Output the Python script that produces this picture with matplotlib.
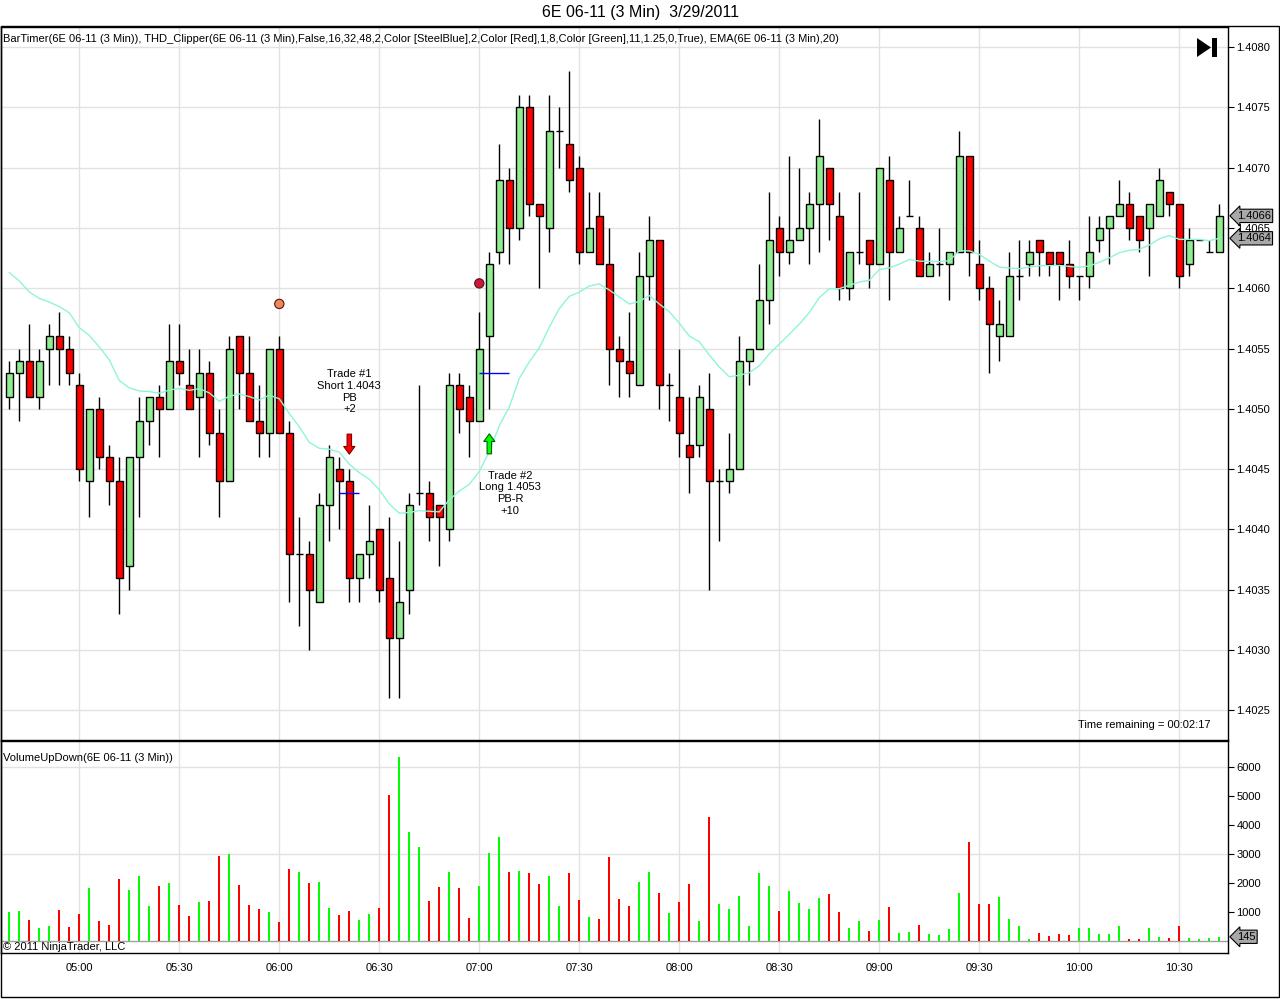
import numpy as np
import pandas as pd
import matplotlib
matplotlib.use("Agg")
import matplotlib.pyplot as plt
from matplotlib.patches import Rectangle, Polygon
from matplotlib.transforms import offset_copy

plt.rcParams['font.family'] = ['Liberation Sans', 'DejaVu Sans']

# 3-minute bars of 6E 06-11
opens = [1.4051, 1.4053, 1.4054, 1.4051, 1.4055, 1.4056, 1.4055, 1.4052, 1.4044, 1.4050,
         1.4046, 1.4044, 1.4037, 1.4046, 1.4049, 1.4051, 1.4050, 1.4054, 1.4052, 1.4051,
         1.4053, 1.4048, 1.4044, 1.4056, 1.4053, 1.4049, 1.4048, 1.4055, 1.4048, 1.4038,
         1.4038, 1.4034, 1.4042, 1.4045, 1.4044, 1.4036, 1.4038, 1.4040, 1.4036, 1.4031,
         1.4035, 1.4043, 1.4043, 1.4042, 1.4040, 1.4052, 1.4051, 1.4049, 1.4056, 1.4063,
         1.4069, 1.4065, 1.4075, 1.4067, 1.4065, 1.4073, 1.4072, 1.4070, 1.4063, 1.4066,
         1.4062, 1.4055, 1.4054, 1.4052, 1.4061, 1.4064, 1.4052, 1.4051, 1.4047, 1.4047,
         1.4050, 1.4044, 1.4044, 1.4045, 1.4054, 1.4055, 1.4059, 1.4065, 1.4063, 1.4064,
         1.4065, 1.4067, 1.4070, 1.4066, 1.4060, 1.4063, 1.4064, 1.4062, 1.4069, 1.4063,
         1.4066, 1.4065, 1.4061, 1.4062, 1.4062, 1.4063, 1.4071, 1.4062, 1.4060, 1.4056,
         1.4056, 1.4061, 1.4062, 1.4064, 1.4063, 1.4063, 1.4062, 1.4061, 1.4061, 1.4064,
         1.4065, 1.4066, 1.4067, 1.4066, 1.4065, 1.4066, 1.4068, 1.4067, 1.4062, 1.4064,
         1.4063, 1.4063]
highs = [1.4054, 1.4055, 1.4057, 1.4055, 1.4057, 1.4058, 1.4056, 1.4053, 1.4050, 1.4051,
         1.4047, 1.4046, 1.4046, 1.4051, 1.4051, 1.4052, 1.4057, 1.4057, 1.4055, 1.4055,
         1.4054, 1.4050, 1.4056, 1.4056, 1.4056, 1.4052, 1.4055, 1.4056, 1.4049, 1.4041,
         1.4039, 1.4043, 1.4047, 1.4046, 1.4045, 1.4038, 1.4042, 1.4040, 1.4041, 1.4039,
         1.4043, 1.4052, 1.4044, 1.4042, 1.4053, 1.4053, 1.4052, 1.4058, 1.4063, 1.4072,
         1.4070, 1.4076, 1.4076, 1.4067, 1.4076, 1.4075, 1.4078, 1.4071, 1.4068, 1.4068,
         1.4065, 1.4056, 1.4058, 1.4063, 1.4066, 1.4064, 1.4053, 1.4055, 1.4051, 1.4052,
         1.4053, 1.4045, 1.4048, 1.4056, 1.4055, 1.4062, 1.4068, 1.4066, 1.4071, 1.4070,
         1.4068, 1.4074, 1.4070, 1.4068, 1.4063, 1.4068, 1.4064, 1.4070, 1.4071, 1.4066,
         1.4069, 1.4066, 1.4063, 1.4065, 1.4063, 1.4073, 1.4071, 1.4064, 1.4061, 1.4059,
         1.4063, 1.4064, 1.4064, 1.4064, 1.4063, 1.4063, 1.4064, 1.4061, 1.4066, 1.4066,
         1.4066, 1.4069, 1.4068, 1.4066, 1.4067, 1.4070, 1.4068, 1.4067, 1.4065, 1.4064,
         1.4064, 1.4067]
lows = [1.4050, 1.4049, 1.4051, 1.4050, 1.4052, 1.4052, 1.4052, 1.4044, 1.4041, 1.4045,
        1.4042, 1.4033, 1.4035, 1.4041, 1.4047, 1.4046, 1.4050, 1.4052, 1.4050, 1.4046,
        1.4047, 1.4041, 1.4044, 1.4050, 1.4049, 1.4046, 1.4046, 1.4048, 1.4034, 1.4032,
        1.4030, 1.4034, 1.4039, 1.4040, 1.4034, 1.4034, 1.4036, 1.4034, 1.4026, 1.4026,
        1.4033, 1.4042, 1.4039, 1.4037, 1.4039, 1.4048, 1.4046, 1.4049, 1.4050, 1.4062,
        1.4062, 1.4064, 1.4066, 1.4060, 1.4063, 1.4070, 1.4068, 1.4062, 1.4063, 1.4062,
        1.4052, 1.4051, 1.4051, 1.4052, 1.4059, 1.4050, 1.4049, 1.4046, 1.4043, 1.4046,
        1.4035, 1.4039, 1.4043, 1.4045, 1.4052, 1.4055, 1.4057, 1.4061, 1.4062, 1.4064,
        1.4062, 1.4063, 1.4064, 1.4059, 1.4059, 1.4062, 1.4060, 1.4062, 1.4059, 1.4063,
        1.4066, 1.4061, 1.4061, 1.4061, 1.4059, 1.4063, 1.4061, 1.4059, 1.4053, 1.4054,
        1.4056, 1.4059, 1.4061, 1.4061, 1.4061, 1.4059, 1.4060, 1.4059, 1.4060, 1.4063,
        1.4062, 1.4066, 1.4064, 1.4063, 1.4061, 1.4066, 1.4066, 1.4060, 1.4061, 1.4064,
        1.4063, 1.4063]
closes = [1.4053, 1.4054, 1.4051, 1.4054, 1.4056, 1.4055, 1.4053, 1.4045, 1.4050, 1.4046,
          1.4044, 1.4036, 1.4046, 1.4049, 1.4051, 1.4050, 1.4054, 1.4053, 1.4050, 1.4053,
          1.4048, 1.4044, 1.4055, 1.4053, 1.4049, 1.4048, 1.4055, 1.4048, 1.4038, 1.4038,
          1.4035, 1.4042, 1.4046, 1.4044, 1.4036, 1.4038, 1.4039, 1.4035, 1.4031, 1.4034,
          1.4042, 1.4043, 1.4041, 1.4041, 1.4052, 1.4050, 1.4049, 1.4055, 1.4062, 1.4069,
          1.4065, 1.4075, 1.4067, 1.4066, 1.4073, 1.4073, 1.4069, 1.4063, 1.4065, 1.4062,
          1.4055, 1.4054, 1.4053, 1.4061, 1.4064, 1.4052, 1.4052, 1.4048, 1.4046, 1.4051,
          1.4044, 1.4044, 1.4045, 1.4054, 1.4055, 1.4059, 1.4064, 1.4063, 1.4064, 1.4065,
          1.4067, 1.4071, 1.4067, 1.4060, 1.4063, 1.4063, 1.4062, 1.4070, 1.4063, 1.4065,
          1.4066, 1.4061, 1.4062, 1.4062, 1.4063, 1.4071, 1.4063, 1.4060, 1.4057, 1.4057,
          1.4061, 1.4061, 1.4063, 1.4063, 1.4062, 1.4062, 1.4061, 1.4061, 1.4063, 1.4065,
          1.4066, 1.4067, 1.4065, 1.4064, 1.4067, 1.4069, 1.4067, 1.4061, 1.4064, 1.4064,
          1.4063, 1.4066]
volumes = [1000, 1030, 720, 450, 520, 1070, 480, 930, 1830, 690,
           550, 2140, 1760, 2240, 1210, 1900, 2000, 1240, 860, 1350,
           1380, 2930, 3000, 1930, 1240, 1100, 1000, 660, 2480, 2380,
           2000, 2030, 1140, 900, 1030, 720, 930, 1140, 5030, 6340,
           3760, 3240, 1380, 1860, 2380, 1830, 790, 1900, 3030, 3590,
           2380, 2410, 2350, 1970, 2240, 1210, 2350, 1410, 830, 760,
           2900, 1450, 1210, 2030, 2380, 1660, 970, 1350, 1970, 690,
           4280, 1280, 1100, 1550, 520, 2350, 1900, 1030, 1720, 1310,
           1100, 1480, 1620, 1000, 450, 690, 350, 720, 1170, 280,
           310, 550, 240, 210, 410, 1660, 3410, 1280, 1280, 1520,
           760, 520, 70, 280, 170, 240, 210, 450, 450, 240,
           240, 520, 70, 70, 450, 140, 100, 520, 100, 70,
           100, 145]

ema_start = 1.40613   # EMA(20) value at the first visible bar
ema_period = 20

tick_labels = ["05:00", "05:30", "06:00", "06:30", "07:00", "07:30", "08:00",
               "08:30", "09:00", "09:30", "10:00", "10:30"]
price_ticks = [1.4025, 1.4030, 1.4035, 1.4040, 1.4045, 1.4050, 1.4055,
               1.4060, 1.4065, 1.4070, 1.4075, 1.4080]
volume_ticks = [1000, 2000, 3000, 4000, 5000, 6000]

# THD_Clipper markers and trades
dot_bars = [27, 47]
dot_prices = [1.40587, 1.40604]
trade_bars = [34, 48]
trade_sides = ["short", "long"]
trade_prices = [1.4043, 1.4053]
trade_line_from = [33, 47]
trade_line_to = [35, 50]
trade_texts = ["Trade #1\nShort 1.4043\nPB\n+2", "Trade #2\nLong 1.4053\nPB-R\n+10"]

o = np.array(opens); h = np.array(highs); l = np.array(lows); c = np.array(closes)
v = np.array(volumes)
n = len(c)
x = np.arange(n)
times = pd.date_range("2011-03-29 04:39", periods=n, freq="3min").strftime("%H:%M")
tick_pos = [list(times).index(t) for t in tick_labels]
up = c >= o

alpha = 2.0 / (ema_period + 1)
ema = np.empty(n)
ema[0] = ema_start
for i in range(1, n):
    ema[i] = ema[i - 1] + alpha * (c[i] - ema[i - 1])

W, H = 1280, 999
fig = plt.figure(figsize=(W / 100, H / 100), dpi=100)


def fx(px):
    return px / W


def fy(py):
    return 1 - py / H


ax = fig.add_axes([fx(1), fy(740), fx(1228) - fx(1), fy(27) - fy(740)])
axv = fig.add_axes([fx(1), fy(953), fx(1228) - fx(1), fy(741) - fy(953)])

grid_col = "#e2e2e2"
for t in tick_pos:
    ax.axvline(t, color=grid_col, lw=1, zorder=0)
    axv.axvline(t, color=grid_col, lw=1, zorder=0)
for p in price_ticks:
    ax.axhline(p, color=grid_col, lw=1, zorder=0)
for vv in [3000, 6000]:
    axv.axhline(vv, color=grid_col, lw=1, zorder=0)

# candles
ax.vlines(x, l, h, color="black", lw=1, zorder=2)
body_lo = np.minimum(o, c)
body_h = np.abs(c - o)
nz = body_h > 1e-9
body_col = np.where(up, "#90ee90", "#ff0000")
ax.bar(x[nz], body_h[nz], bottom=body_lo[nz], width=0.65, color=body_col[nz],
       edgecolor="black", lw=1, zorder=3)
ax.hlines(c[~nz], x[~nz] - 0.33, x[~nz] + 0.33, color="black", lw=1, zorder=3)

ax.plot(x, ema, color="#8ff5d6", lw=1, zorder=4)

# markers and trades
ax.scatter(dot_bars, dot_prices, s=45, c=["#f4845a", "#d2143c"],
           edgecolors="#4a1a10", linewidths=0.8, zorder=5)
ax.hlines(trade_prices, trade_line_from, trade_line_to, color="blue", lw=1, zorder=5)
for b, side, txt in zip(trade_bars, trade_sides, trade_texts):
    if side == "short":
        tip = offset_copy(ax.transData, fig=fig, y=15, units="dots")
        ax.annotate("", xy=(b, h[b]), xycoords=tip, xytext=(0, 20),
                    textcoords="offset pixels",
                    arrowprops=dict(arrowstyle="simple,head_length=0.55,head_width=0.8,tail_width=0.32",
                                    fc="#ff0000", ec="#7a0000", lw=0.8, shrinkA=0, shrinkB=0),
                    zorder=6)
        ax.annotate(txt, xy=(b, h[b]), xytext=(0, 55), textcoords="offset pixels",
                    ha="center", va="bottom", fontsize=8, linespacing=1.2, zorder=6)
    else:
        tip = offset_copy(ax.transData, fig=fig, y=-25, units="dots")
        ax.annotate("", xy=(b, l[b]), xycoords=tip, xytext=(0, -20),
                    textcoords="offset pixels",
                    arrowprops=dict(arrowstyle="simple,head_length=0.55,head_width=0.8,tail_width=0.32",
                                    fc="#00ff00", ec="#006000", lw=0.8, shrinkA=0, shrinkB=0),
                    zorder=6)
        ax.annotate(txt, xy=(b, l[b]), xytext=(21, -62), textcoords="offset pixels",
                    ha="center", va="top", fontsize=8, linespacing=1.2, zorder=6)

# volume
axv.bar(x, v, width=0.22, color=np.where(up, "#00ff00", "#ff0000"), zorder=2)
axv.axhline(0, color="#a0a0a0", lw=1, zorder=1)

xlim = (-0.83, 121.87)
ax.set_xlim(*xlim)
axv.set_xlim(*xlim)
ax.set_ylim(1.402254, 1.408166)
axv.set_ylim(-414, 6897)

ax.yaxis.tick_right()
ax.set_yticks(price_ticks)
ax.set_yticklabels([f"{p:.4f}" for p in price_ticks])
ax.tick_params(axis="y", length=4, pad=2, labelsize=8, direction="out")
ax.tick_params(axis="x", bottom=False, labelbottom=False)

axv.yaxis.tick_right()
axv.set_yticks(volume_ticks)
axv.set_yticklabels([str(t) for t in volume_ticks])
axv.tick_params(axis="y", length=4, pad=2, labelsize=8, direction="out")
axv.set_xticks(tick_pos)
axv.set_xticklabels(tick_labels)
axv.tick_params(axis="x", length=0, pad=7, labelsize=8)

for a in (ax, axv):
    for s in a.spines.values():
        s.set_color("black")
        s.set_linewidth(1)

# last value boxes on the right axis
box = dict(boxstyle="larrow,pad=0.15", fc="#a8a8a8", ec="black", lw=0.8)
ax.annotate(f"{c[-1]:.4f}", xy=(1, c[-1]), xycoords=("axes fraction", "data"),
            xytext=(9, 0), textcoords="offset pixels", ha="left", va="center",
            fontsize=8, bbox=box, annotation_clip=False, zorder=10)
ax.annotate(f"{ema[-1]:.4f}", xy=(1, ema[-1]), xycoords=("axes fraction", "data"),
            xytext=(9, 0), textcoords="offset pixels", ha="left", va="center",
            fontsize=8, bbox=box, annotation_clip=False, zorder=10)
axv.annotate(f"{v[-1]}", xy=(1, v[-1]), xycoords=("axes fraction", "data"),
             xytext=(9, 0), textcoords="offset pixels", ha="left", va="center",
             fontsize=8, bbox=box, annotation_clip=False, zorder=10)

# texts
fig.text(0.5, fy(13), "6E 06-11 (3 Min)  3/29/2011", ha="center", va="center", fontsize=11.5)
fig.text(fx(3), fy(39),
         "BarTimer(6E 06-11 (3 Min)), THD_Clipper(6E 06-11 (3 Min),False,16,32,48,2,"
         "Color [SteelBlue],2,Color [Red],1,8,Color [Green],11,1.25,0,True), "
         "EMA(6E 06-11 (3 Min),20)", ha="left", va="center", fontsize=8)
fig.text(fx(1210), fy(725), "Time remaining = 00:02:17", ha="right", va="center", fontsize=8)
fig.text(fx(3), fy(758), "VolumeUpDown(6E 06-11 (3 Min))", ha="left", va="center", fontsize=8)
fig.text(fx(3), fy(947), "\u00a9 2011 NinjaTrader, LLC", ha="left", va="center", fontsize=8)

# play-to-end icon
fig.add_artist(Polygon([(fx(1197), fy(38)), (fx(1197), fy(57)), (fx(1211), fy(47.5))],
                       closed=True, transform=fig.transFigure, fc="black", ec="none"))
fig.add_artist(Rectangle((fx(1212), fy(57)), fx(4.5), fy(38) - fy(57),
                         transform=fig.transFigure, fc="black", ec="none"))

# outer frame
fig.add_artist(Rectangle((fx(0.5), fy(997)), fx(1279) - fx(0.5), fy(26) - fy(997),
                         transform=fig.transFigure, fill=False, ec="black", lw=1))

fig.savefig("out.png", dpi=100, facecolor="white")
